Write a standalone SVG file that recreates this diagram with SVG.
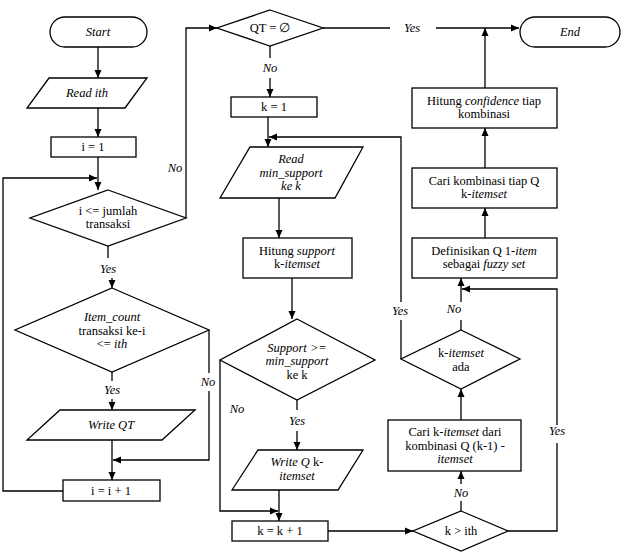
<svg xmlns="http://www.w3.org/2000/svg" width="621" height="556" viewBox="0 0 621 556" font-family="'Liberation Serif', 'Times New Roman', 'DejaVu Serif', serif">
<style>
.s{fill:#fff;stroke:#000;stroke-width:1.3}
.c{fill:none;stroke:#000;stroke-width:1.3}
.a{marker-end:url(#ah)}
text{font-family:'Liberation Serif','Times New Roman','DejaVu Serif',serif;font-size:12.5px;fill:#000;text-anchor:middle}
.i{font-style:italic}
</style>
<defs>
<marker id="ah" markerUnits="userSpaceOnUse" markerWidth="8" markerHeight="8" refX="8" refY="4" orient="auto">
<path d="M0,0.5 L8,4 L0,7.5 z" fill="#000"/>
</marker>
</defs>
<rect width="621" height="556" fill="#fff"/>
<g id="connectors">
<path class="c a" d="M98,47 V78"/>
<path class="c a" d="M98,108 V137"/>
<path class="c a" d="M98,157 V190"/>
<path class="c a" d="M63,491 H3 V178 H97"/>
<path class="c a" d="M186,218 V28 H217"/>
<path class="c" d="M108,246 V258"/>
<path class="c a" d="M112,278 V288"/>
<path class="c" d="M209,330 V373"/>
<path class="c a" d="M209,391 V460 H113"/>
<path class="c" d="M112,372 V381"/>
<path class="c a" d="M112,399 V410"/>
<path class="c a" d="M112,440 V480"/>
<path class="c" d="M323,28 H390"/>
<path class="c a" d="M436,28 H519"/>
<path class="c" d="M270,46 V58"/>
<path class="c a" d="M270,78 V97"/>
<path class="c a" d="M268,117 V147"/>
<path class="c" d="M401,359 V320"/>
<path class="c a" d="M401,302 V137 H269"/>
<path class="c a" d="M279,198 V238"/>
<path class="c a" d="M292,278 V319"/>
<path class="c a" d="M220,360 V511 H278"/>
<path class="c" d="M297,400 V410"/>
<path class="c a" d="M297,431 V450"/>
<path class="c a" d="M279,490 V521"/>
<path class="c a" d="M328,531 H413"/>
<path class="c" d="M508,531 H557 V443"/>
<path class="c a" d="M557,425 V289 H462"/>
<path class="c" d="M461,511 V501"/>
<path class="c a" d="M461,484 V471"/>
<path class="c a" d="M461,420 V389"/>
<path class="c" d="M461,330 V320"/>
<path class="c a" d="M461,302 V278"/>
<path class="c a" d="M485,238 V208"/>
<path class="c a" d="M485,168 V128"/>
<path class="c a" d="M485,88 V28"/>
<text class="i" x="175" y="172">No</text>
<text class="i" x="108" y="273">Yes</text>
<text class="i" x="208" y="386">No</text>
<text class="i" x="112" y="394">Yes</text>
<text class="i" x="412" y="32">Yes</text>
<text class="i" x="270" y="72">No</text>
<text class="i" x="400" y="315">Yes</text>
<text class="i" x="237" y="413">No</text>
<text class="i" x="297" y="425">Yes</text>
<text class="i" x="557" y="435">Yes</text>
<text class="i" x="461" y="497">No</text>
<text class="i" x="454" y="313">No</text>
</g>
<g id="start"><rect class="s" x="50" y="17" width="97" height="30" rx="15"/><text class="i" x="98" y="36">Start</text></g>
<g id="read-ith"><polygon class="s" points="49,78 147,78 125,108 27,108"/><text class="i" x="87" y="97">Read ith</text></g>
<g id="i1"><rect class="s" x="51" y="137" width="85" height="20"/><text x="93" y="151">i = 1</text></g>
<g id="cond-i"><polygon class="s" points="108,190 186,218 108,246 30,218"/><text x="108" y="214.5">i &lt;= jumlah</text><text x="108" y="228">transaksi</text></g>
<g id="cond-item"><polygon class="s" points="112,288 209,330 112,372 15,330"/><text class="i" x="112" y="321">Item_count</text><text x="112" y="334.5">transaksi ke-i</text><text x="112" y="348">&lt;= <tspan class="i">ith</tspan></text></g>
<g id="write-qt"><polygon class="s" points="60,410 195,410 162,440 27,440"/><text class="i" x="111" y="429">Write QT</text></g>
<g id="inc-i"><rect class="s" x="63" y="480" width="97" height="21"/><text x="111" y="495">i = i + 1</text></g>
<g id="cond-qt"><polygon class="s" points="270,10 323,28 270,46 217,28"/><text x="270" y="32">QT = ∅</text></g>
<g id="end"><rect class="s" x="520" y="17" width="100" height="30" rx="15"/><text class="i" x="570" y="36">End</text></g>
<g id="k1"><rect class="s" x="231" y="97" width="86" height="20"/><text x="274" y="111">k = 1</text></g>
<g id="read-minsup"><polygon class="s" points="250,147 363,147 335,198 220,198"/><text class="i" x="291" y="163">Read</text><text class="i" x="291" y="176.5">min_support</text><text class="i" x="291" y="190">ke k</text></g>
<g id="hitung-support"><rect class="s" x="243" y="238" width="109" height="40"/><text x="297" y="254.5">Hitung <tspan class="i">support</tspan></text><text x="297" y="268">k-<tspan class="i">itemset</tspan></text></g>
<g id="cond-support"><polygon class="s" points="297,319 375,360 297,400 220,360"/><text class="i" x="297" y="351.5">Support &gt;=</text><text class="i" x="297" y="365">min_support</text><text x="297" y="378.5">ke k</text></g>
<g id="write-q"><polygon class="s" points="258,450 363,450 338,490 232,490"/><text x="297" y="466"><tspan class="i">Write Q</tspan> k-</text><text class="i" x="297" y="479.5">itemset</text></g>
<g id="inc-k"><rect class="s" x="232" y="521" width="96" height="20"/><text x="280" y="535">k = k + 1</text></g>
<g id="cond-k"><polygon class="s" points="461,511 508,531 461,551 413,531"/><text x="461" y="535">k &gt; ith</text></g>
<g id="cari-k"><rect class="s" x="388" y="420" width="133" height="51"/><text x="455" y="436">Cari k-<tspan class="i">itemset</tspan> dari</text><text x="455" y="449.5">kombinasi Q (k-1) -</text><text class="i" x="455" y="463">itemset</text></g>
<g id="cond-ada"><polygon class="s" points="461,330 520,359 461,389 401,359"/><text x="461" y="357">k-<tspan class="i">itemset</tspan></text><text x="461" y="370.5">ada</text></g>
<g id="definisikan"><rect class="s" x="412" y="238" width="145" height="40"/><text x="484" y="254.5">Definisikan Q 1-<tspan class="i">item</tspan></text><text x="484" y="268">sebagai <tspan class="i">fuzzy set</tspan></text></g>
<g id="cari-kombinasi"><rect class="s" x="412" y="168" width="145" height="40"/><text x="484" y="184.5">Cari kombinasi tiap Q</text><text x="484" y="198">k-<tspan class="i">itemset</tspan></text></g>
<g id="hitung-confidence"><rect class="s" x="412" y="88" width="145" height="40"/><text x="484" y="104.5">Hitung <tspan class="i">confidence</tspan> tiap</text><text x="484" y="118">kombinasi</text></g>
</svg>
